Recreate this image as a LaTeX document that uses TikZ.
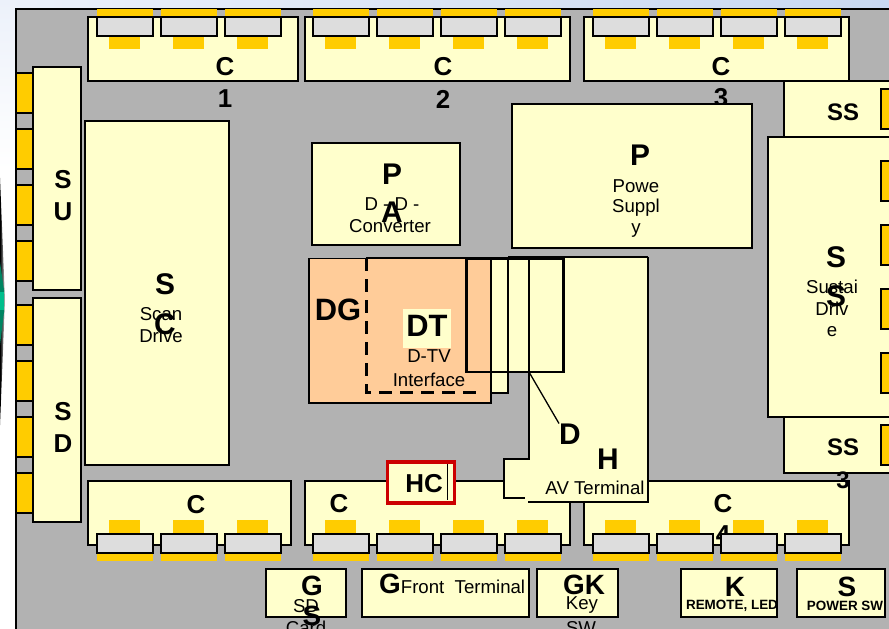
\documentclass[tikz,border=0pt]{standalone}
\usepackage{fontspec}
\setmainfont{Liberation Sans}
\definecolor{panel}{RGB}{178,178,178}
\definecolor{ivory}{RGB}{255,255,204}
\definecolor{gold}{RGB}{255,204,0}
\definecolor{chip}{RGB}{221,221,221}
\definecolor{peach}{RGB}{255,204,153}
\definecolor{hcred}{RGB}{204,0,0}
\definecolor{skyl}{RGB}{236,241,250}
\definecolor{skyr}{RGB}{200,216,242}
\definecolor{tealx}{RGB}{0,190,140}
\newcommand{\hugesz}{\fontsize{30}{30}\selectfont\bfseries}
\newcommand{\bigsz}{\fontsize{28}{28}\selectfont\bfseries}
\newcommand{\csz}{\fontsize{26}{26}\selectfont\bfseries}
\newcommand{\medsz}{\fontsize{24}{24}\selectfont\bfseries}
\newcommand{\smallsz}{\fontsize{18.7}{19}\selectfont}
\tikzset{
  board/.style={draw=black,fill=ivory,line width=1.8pt},
  tab/.style={draw=black,fill=gold,line width=1.4pt},
  chipbox/.style={draw=black,fill=chip,line width=1.8pt},
  hl/.style={inner sep=0pt,font=\hugesz},
  bl/.style={inner sep=0pt,font=\bigsz},
  cl/.style={inner sep=0pt,font=\csz},
  ml/.style={inner sep=0pt,font=\medsz},
  sl/.style={inner sep=0pt,font=\smallsz},
  tl/.style={inner sep=0pt,font=\fontsize{13.5}{14}\selectfont\bfseries},
}
\newcommand{\chiptop}[1]{%
  \fill[gold] (#1,9) rectangle (#1+56,16);
  \draw[chipbox] (#1,17) rectangle (#1+56,36);
  \fill[gold] (#1+12,36.8) rectangle (#1+43,49);}
\newcommand{\chipbot}[1]{%
  \fill[gold] (#1,554) rectangle (#1+56,561);
  \draw[chipbox] (#1,534) rectangle (#1+56,553);
  \fill[gold] (#1+12,520) rectangle (#1+43,533);}
\begin{document}
\begin{tikzpicture}[x=1bp,y=-1bp]
\useasboundingbox (0,0) rectangle (889,629);
\clip (0,0) rectangle (889,629);
% background
\fill[white] (0,0) rectangle (889,629);
\shade[left color=skyl,right color=skyr] (0,0) rectangle (889,12);
\shade[top color=skyl,bottom color=white] (0,0) rectangle (16,170);
% fragment at the left edge
\shade[left color=black,right color=black!15] (0,178) -- (5,300) -- (0,425) -- cycle;
\fill[tealx!70!black] (0,262) -- (4,290) -- (4,312) -- (0,345) -- cycle;
\fill[tealx] (0,292) rectangle (4,310);
% panel
\draw[fill=panel,line width=1.4pt] (16,640) -- (16,9) -- (900,9) -- (900,640) -- cycle;
% labels under the boards
\node[cl] (n1) at (225,99) {1};
\node[cl] (n2) at (443,99) {2};
\node[cl] (n3) at (721,98) {3};
% top connector boards
\draw[board] (88,17) rectangle (298,81);
\draw[board] (305,17) rectangle (570,81);
\draw[board] (584,17) rectangle (849,81);
\foreach \x in {97,161,225,313,377,441,505,593,657,721,785} {\chiptop{\x}}
\node[cl] (c1) at (225,67) {C};
\node[cl] (c2) at (443,67) {C};
\node[cl] (c3) at (721,67) {C};
% left tabs
\foreach \y in {73,129,185,241,305,361,417,473} {\draw[tab] (16,\y) rectangle (33,\y+40);}
% left boards
\draw[board] (33,67) rectangle (81,290);
\draw[board] (33,298) rectangle (81,522);
\node[cl] (su1) at (63,180) {S};
\node[cl] (su2) at (63,212) {U};
\node[cl] (sd1) at (63,412) {S};
\node[cl] (sd2) at (63,444) {D};
% SC
\draw[board] (85,121) rectangle (229,465);
\node[hl] (sc1) at (165,284) {S};
\node[hl] (sc2) at (165,324) {C};
\node[sl] (sc3) at (161,314) {Scan};
\node[sl] (sc4) at (161,336) {Drive};
% PA
\draw[board] (312,143) rectangle (460,245);
\node[hl] (pa1) at (392,174) {P};
\node[hl] (pa2) at (392,212) {A};
\node[sl] (pa3) at (392,204) {D - D -};
\node[sl] (pa4) at (390,226) {Converter};
% P
\draw[board] (512,104) rectangle (752,248);
\node[hl] (p1) at (640,155) {P};
\node[sl] (p2) at (636,186) {Powe};
\node[sl] (p3) at (636,208) {Suppl};
\node[sl] (p4) at (636,231) {y};
% SS2, SS3
\draw[board] (784,81) rectangle (900,145);
\node[ml] (ss2) at (843,112) {SS};
\node[ml] (ss2n) at (843,145) {2};
\draw[board] (784,410) rectangle (900,473);
\node[ml] (ss3) at (843,447) {SS};
% S
\draw[board] (768,137) rectangle (900,417);
\node[hl] (s1) at (836,257) {S};
\node[hl] (s2) at (836,296) {S};
\node[sl] (s3) at (832,287) {Sustai};
\node[sl] (s4) at (832,309) {Driv};
\node[sl] (s5) at (832,332) {e};
\foreach \y in {89,161,225,289,353,425} {\draw[tab] (881,\y) rectangle (900,\y+40);}
% bottom connector boards
\draw[board] (88,481) rectangle (291,545);
\draw[board] (305,481) rectangle (570,545);
\draw[board] (584,481) rectangle (849,545);
\node[cl] (c5) at (196,505) {C};
\node[cl] (c6) at (339,504) {C};
\node[cl] (c7) at (723,504) {C};
\node[cl] (n4) at (723,535) {4};
\foreach \x in {97,161,225,313,377,441,505,593,657,721,785} {\chipbot{\x}}
\node[ml] (ss3n) at (843,480) {3};
% H
\fill[ivory] (529,258) rectangle (648,502);
\fill[ivory] (504,459) rectangle (530,498);
\draw[line width=1.8pt] (529,372) -- (529,459) -- (504,459) -- (504,498) -- (525,498);
\draw[line width=1.8pt] (648,257) -- (648,502) -- (528,502);
% DG and the ivory strip beside it
\fill[ivory] (491,258) rectangle (529,372);
\fill[ivory] (491,372) rectangle (508,393);
\draw[line width=1.8pt] (491,393) -- (508,393) -- (508,258);
\draw[board,fill=peach] (309,258.5) rectangle (491,403);
\draw[line width=1.4pt] (529,258) -- (529,372);
% DT dashed
\draw[line width=3pt] (366,258) -- (508,258);
\draw[line width=2pt] (508,257) -- (648,257);
\draw[line width=3.6pt,dash pattern=on 13bp off 8bp] (366.5,258) -- (366.5,392.5) -- (484,392.5);
% thick rectangle
\draw[line width=3pt] (466,259) rectangle (563,372);
\coordinate (lead) at (529,372);
\node[hl] (d) at (570,434) {D};
\draw[line width=1.3pt] (lead) -- (d.north west);
\node[hl] (h) at (608,459) {H};
\node[sl] (av) at (595,488) {AV Terminal};
\node[font=\fontsize{31}{31}\selectfont\bfseries,inner sep=0pt] (dg) at (338,310) {DG};
\fill[ivory] (403,309) rectangle (451,348);
\node[font=\fontsize{31}{31}\selectfont\bfseries,inner sep=0pt] (dt) at (427,326) {DT};
\node[sl] (dtv) at (429,356) {D-TV};
\node[sl] (dti) at (429,380) {Interface};
% HC
\fill[ivory] (387,462) rectangle (454,503);
\draw[line width=1pt] (387,460.5) -- (447,460.5) -- (447,500);
\draw[hcred,line width=3.8pt] (387.5,462) rectangle (454.5,503);
\node[cl] (hc) at (424,484) {HC};
% bottom row
\draw[board] (266,569) rectangle (346,617);
\node[bl] (g1) at (312,586) {G};
\node[sl] (g2) at (306,606) {SD};
\node[bl] (g3) at (312,616) {S};
\node[sl] (g4) at (306,628) {Card};
\draw[board] (362,569) rectangle (529,617);
\node[bl] (g5) at (390,584) {G};
\node[sl] (g6) at (463,587) {Front\ \ Terminal};
\draw[board] (537,569) rectangle (618,617);
\node[bl] (g7) at (584,585) {GK};
\node[sl] (g8) at (582,605) {Key};
\node[sl] (g9) at (581,628) {SW};
\draw[board] (681,569) rectangle (777,617);
\node[bl] (k1) at (735,587) {K};
\node[tl] (k2) at (732,606) {REMOTE, LED};
\draw[board] (797,569) rectangle (885,617);
\node[bl] (s6) at (847,587) {S};
\node[tl] (s7) at (845,606) {POWER SW};
\end{tikzpicture}
\end{document}
